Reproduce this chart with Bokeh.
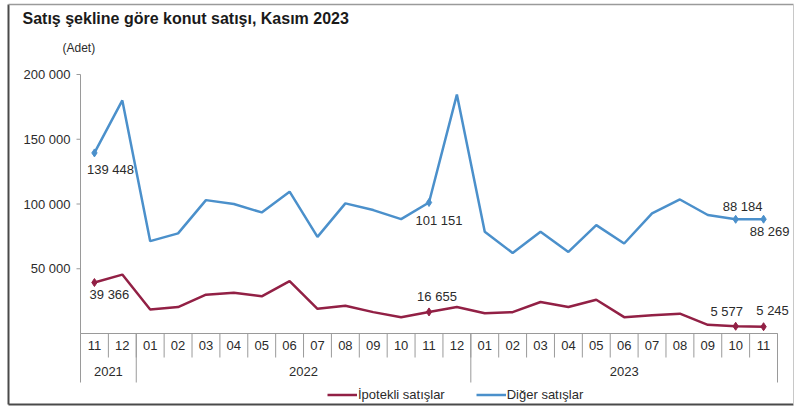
from bokeh.plotting import figure
from bokeh.models import Range1d, Legend, LegendItem
from bokeh.core.properties import value
from bokeh.embed import file_html
from bokeh.resources import INLINE

# ---------------- data ----------------
months = ["11", "12", "01", "02", "03", "04", "05", "06", "07", "08", "09", "10", "11", "12",
          "01", "02", "03", "04", "05", "06", "07", "08", "09", "10", "11"]
years = ["2021"] * 2 + ["2022"] * 12 + ["2023"] * 11
ipotekli = [39366, 45500, 18600, 20400, 30000, 31500, 28700, 40500, 19100, 21500, 16500, 12600,
            16655, 20400, 15700, 16500, 24300, 20400, 26100, 12600, 14000, 15300, 6700, 5577, 5245]
diger = [139448, 180000, 71300, 77300, 103000, 100000, 93500, 109500, 74600, 100500, 95300, 88300,
         101151, 184500, 78500, 62200, 78500, 63000, 83700, 69500, 92800, 103500, 91500, 88184, 88269]
y_ticks = [50000, 100000, 150000, 200000]
y_tick_labels = ["50 000", "100 000", "150 000", "200 000"]
labeled_idx = [0, 12, 23, 24]
title_text = "Satış şekline göre konut satışı, Kasım 2023"
unit_text = "(Adet)"
series_names = ["İpotekli satışlar", "Diğer satışlar"]

# ---------------- layout (pixel geometry of the canvas) ----------------
FONT = "Liberation Sans"
RED = "#922045"
BLUE = "#4b90cb"
GRID = "#9a9a9a"
TXT = "#2b2b2b"

W, H = 796, 410
AX_LEFT = 80                    # value-axis position, px from left
ZERO_Y = 333                    # y=0 line, px from top
n = len(months)
PX_Y = 200000 / 259.0           # data units per pixel (vertical)
PX_X = n / 697.0                # data units per pixel (horizontal)
x0 = -0.5 - AX_LEFT * PX_X
x1 = -0.5 + (W - AX_LEFT) * PX_X
y0 = -(H - ZERO_Y) * PX_Y
y1 = ZERO_Y * PX_Y


def cx(px):   # canvas px -> data x
    return x0 + px * PX_X


def cy(py):   # canvas px (from top) -> data y
    return y1 - py * PX_Y


p = figure(frame_width=W, frame_height=H, x_range=Range1d(x0, x1), y_range=Range1d(y0, y1),
           output_backend="svg", toolbar_location=None, x_axis_location=None,
           y_axis_location=None, min_border=0)
p.outline_line_color = None
p.xgrid.visible = False
p.ygrid.visible = False
p.background_fill_color = "white"
p.border_fill_color = "white"

# outer frame of the chart (scanned box)
p.segment(x0=[cx(8)], y0=[cy(4)], x1=[cx(8)], y1=[cy(404)], line_color="#4a4a4a", line_width=2)
p.segment(x0=[cx(8)], y0=[cy(404)], x1=[cx(793)], y1=[cy(404)], line_color="#4a4a4a", line_width=2)
p.segment(x0=[cx(8)], y0=[cy(4)], x1=[cx(793)], y1=[cy(4)], line_color="#9a9a9a", line_width=1.5)
p.segment(x0=[cx(793)], y0=[cy(4)], x1=[cx(793)], y1=[cy(404)], line_color="#c8c8c8", line_width=1)

left = -0.5
y_axis_top = max(y_ticks)
month_sep_bottom = -24 * PX_Y
year_sep_bottom = -49 * PX_Y

# value axis: line, ticks, labels
p.segment(x0=[left], y0=[y_axis_top], x1=[left], y1=[0], line_color=GRID, line_width=1)
p.segment(x0=[left - 4 * PX_X] * len(y_ticks), y0=y_ticks, x1=[left] * len(y_ticks), y1=y_ticks,
          line_color=GRID, line_width=1)
p.text(x=[left - 10 * PX_X] * len(y_ticks), y=y_ticks, text=y_tick_labels, text_align="right",
       text_baseline="middle", text_font=value(FONT), text_font_size="13px", text_color=TXT)

# category axis line
p.segment(x0=[left], y0=[0], x1=[n - 0.5], y1=[0], line_color=GRID, line_width=1)

# month separators
bounds = [i - 0.5 for i in range(n + 1)]
p.segment(x0=bounds, y0=[0] * len(bounds), x1=bounds, y1=[month_sep_bottom] * len(bounds),
          line_color=GRID, line_width=1)
# year separators + year labels
year_bounds = [-0.5]
year_centers, year_names = [], []
start = 0
for i in range(1, n + 1):
    if i == n or years[i] != years[i - 1]:
        year_bounds.append(i - 0.5)
        year_centers.append((start + i - 1) / 2)
        year_names.append(years[start])
        start = i
p.segment(x0=year_bounds, y0=[0] * len(year_bounds), x1=year_bounds,
          y1=[year_sep_bottom] * len(year_bounds), line_color=GRID, line_width=1)

p.text(x=list(range(n)), y=[-12 * PX_Y] * n, text=months, text_align="center",
       text_baseline="middle", text_font=value(FONT), text_font_size="13px", text_color=TXT)
p.text(x=year_centers, y=[-38 * PX_Y] * len(year_centers), text=year_names, text_align="center",
       text_baseline="middle", text_font=value(FONT), text_font_size="13px", text_color=TXT)

# series
xs = list(range(n))
r_red = p.line(xs, ipotekli, line_color=RED, line_width=2.5)
r_blue = p.line(xs, diger, line_color=BLUE, line_width=2.5)
p.scatter([xs[i] for i in labeled_idx], [ipotekli[i] for i in labeled_idx], marker="diamond",
          size=8, color=RED)
p.scatter([xs[i] for i in labeled_idx], [diger[i] for i in labeled_idx], marker="diamond",
          size=8, color=BLUE)


def fmt(v):
    return f"{v:,}".replace(",", " ")


# data labels (offsets in pixels: right, down)
blue_off = {0: (16, 17), 12: (10, 18), 23: (7, -13), 24: (6, 12)}
red_off = {0: (15, 12), 12: (8, -15), 23: (-9, -15), 24: (9, -16)}
for series, offs in ((diger, blue_off), (ipotekli, red_off)):
    lx = [xs[i] + offs[i][0] * PX_X for i in labeled_idx]
    ly = [series[i] - offs[i][1] * PX_Y for i in labeled_idx]
    p.text(x=lx, y=ly, text=[fmt(series[i]) for i in labeled_idx], text_align="center",
           text_baseline="middle", text_font=value(FONT), text_font_size="13px", text_color=TXT)

# title and unit
p.text(x=[cx(22)], y=[cy(18)], text=[title_text], text_align="left",
       text_baseline="middle", text_font=value(FONT), text_font_size="16px",
       text_font_style="bold", text_color="#1a1a1a")
p.text(x=[cx(62)], y=[cy(47)], text=[unit_text], text_align="left",
       text_baseline="middle", text_font=value(FONT), text_font_size="12px", text_color=TXT)

legend = Legend(items=[LegendItem(label=series_names[0], renderers=[r_red]),
                       LegendItem(label=series_names[1], renderers=[r_blue])],
                orientation="horizontal", location=(327, 8), margin=0, padding=0,
                spacing=31, glyph_width=30, glyph_height=13, label_height=13,
                label_standoff=1, label_text_font=FONT, label_text_font_size="13px",
                label_text_color=TXT, border_line_color=None, background_fill_alpha=0)
p.add_layout(legend)

open("out.html", "w").write(file_html(p, INLINE))
